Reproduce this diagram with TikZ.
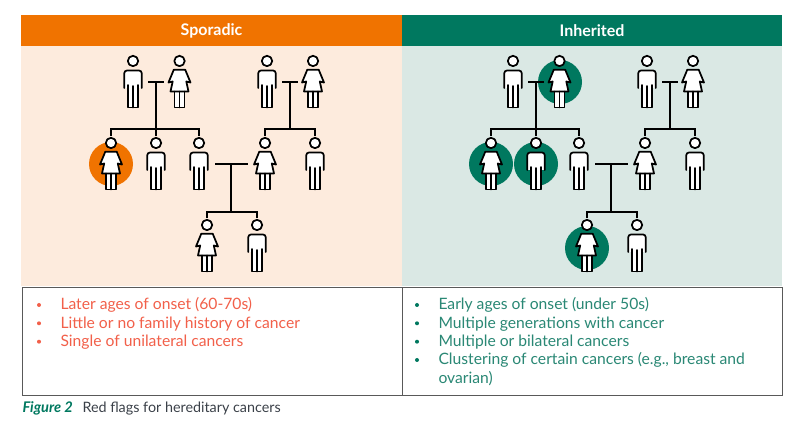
\documentclass[tikz,border=0pt]{standalone}
\usepackage{fontspec}
\setmainfont{Lato}
\usetikzlibrary{positioning}
\definecolor{sporOrange}{HTML}{F07300}
\definecolor{sporPale}{HTML}{FDEBDD}
\definecolor{sporText}{HTML}{F2604A}
\definecolor{inhGreen}{HTML}{00785F}
\definecolor{inhPale}{HTML}{DAE8E4}
\definecolor{inhText}{HTML}{2A8875}
\definecolor{capText}{HTML}{3A4048}
\tikzset{
  every picture/.style={line width=0.75pt},
  figline/.style={line width=1.3pt, line join=round, line cap=round},
  kin/.style={line width=1.5pt, line join=miter},
  header/.style={rectangle, minimum width=#1*0.75pt, minimum height=23.25pt, inner sep=0pt, text=white, font=\fontsize{12}{14}\selectfont\bfseries},
  panel/.style={rectangle, minimum width=#1*0.75pt, minimum height=180pt, inner sep=0pt},
  listbox/.style={rectangle, draw=black!65, fill=white, minimum width=#1*0.75pt, minimum height=81pt, inner sep=0pt},
  listline/.style={anchor=base west, inner sep=0pt, font=\fontsize{11.75}{14}\selectfont},
  dotmark/.style={circle, inner sep=0pt, minimum size=3pt},
  spot/.style={circle, inner sep=0pt, minimum size=33pt},
  male/.pic={
    \fill[white] (-8.5,10) rectangle (8.5,27);
    \fill[white] (-5,24) rectangle (5,46.5);
    \draw[figline, fill=white] (0,0) circle (5.2);
    \draw[figline, rounded corners=2pt] (-8.7,27) -- (-8.7,9.5) -- (8.7,9.5) -- (8.7,27);
    \draw[figline] (-5,24) -- (-5,46.5) -- (5,46.5) -- (5,24);
    \draw[figline] (0,25) -- (0,46.5);
    \coordinate (-top) at (0,-7);
  },
  female/.pic={
    \fill[white] (-4.8,30) rectangle (5,46.5);
    \draw[figline, fill=white] (0,0) circle (5.2);
    \draw[figline, fill=white] (-5.7,8.7) -- (5.7,8.7) -- (11,21.5) -- (6.8,20.5) -- (9,30.5) -- (-9,30.5) -- (-6.8,20.5) -- (-11,21.5) -- cycle;
    \draw[figline] (-5,30.5) -- (-5,46.5) -- (5,46.5) -- (5,30.5);
    \draw[figline] (0,30.5) -- (0,46.5);
    \coordinate (-top) at (0,-7);
  }
}
% one family tree, repeated in each column
\newcommand{\famtree}{
  % grandparents
  \pic (gm) at (133,61) {male};
  \pic (gf) at (179.5,61) {female};
  \pic (hm) at (267,61) {male};
  \pic (hf) at (313,61) {female};
  % children
  \pic (ca) at (111,143) {female};
  \pic (cb) at (156,143) {male};
  \pic (cc) at (199,143) {male};
  \pic (cd) at (265,143) {female};
  \pic (ce) at (315,143) {male};
  % youngest generation
  \pic (ka) at (207,225) {female};
  \pic (kb) at (257,225) {male};
  % couple bars and sibling bars
  \coordinate (ula) at (148,82); \coordinate (ulb) at (164,82); \coordinate (ul) at (156,82);
  \coordinate (ura) at (282,82); \coordinate (urb) at (298,82); \coordinate (ur) at (290,82);
  \coordinate (uma) at (215,164); \coordinate (umb) at (248,164); \coordinate (um) at (231,164);
  \coordinate (sl) at (156,129); \coordinate (sr) at (290,129); \coordinate (sm) at (231,212);
  \draw[kin] (ula) -- (ulb); \draw[kin] (ul) -- (sl);
  \draw[kin] (ca-top) |- (sl) -| (cc-top); \draw[kin] (cb-top) -- (sl);
  \draw[kin] (ura) -- (urb); \draw[kin] (ur) -- (sr);
  \draw[kin] (cd-top) |- (sr) -| (ce-top);
  \draw[kin] (uma) -- (umb); \draw[kin] (um) -- (sm);
  \draw[kin] (ka-top) |- (sm) -| (kb-top);
}
\begin{document}
\begin{tikzpicture}[x=0.75pt, y=-0.75pt]
  \useasboundingbox (0,0) rectangle (800,434);
  % headers
  \node[header=381, fill=sporOrange] (hdspor) at (211.5,30.5) {Sporadic};
  \node[header=380, fill=inhGreen] (hdinh) at (592,30.5) {Inherited};
  % pale panels
  \node[panel=381, fill=sporPale] (pnspor) at (211.5,166) {};
  \node[panel=380, fill=inhPale] (pninh) at (592,166) {};
  % affected people
  \node[spot, fill=sporOrange] (spa) at (111,164) {};
  \node[spot, fill=inhGreen] (spb) at (560,82) {};
  \node[spot, fill=inhGreen] (spc) at (491,164) {};
  \node[spot, fill=inhGreen] (spd) at (536,164) {};
  \node[spot, fill=inhGreen] (spe) at (587,248) {};
  % trees
  \begin{scope}[name prefix=L-]
    \famtree
  \end{scope}
  \begin{scope}[name prefix=R-, shift={(380,0)}]
    \famtree
  \end{scope}
  % lists
  \node[listbox=380, anchor=north west] (bxspor) at (22,287) {};
  \node[listbox=380, anchor=north west] (bxinh) at (402,287) {};
  \foreach \y/\txt in {310/Later ages of onset (60-70s), 328.3/Little or no family history of cancer, 346.7/Single of unilateral cancers}{
    \node[dotmark, fill=sporText] at (39,\y-5) {};
    \node[listline, text=sporText] at (60,\y) {\txt};
  }
  \foreach \y/\txt in {310/Early ages of onset (under 50s), 328.3/Multiple generations with cancer, 346.7/Multiple or bilateral cancers, 365/{Clustering of certain cancers (e.g., breast and}, 383.3/ovarian)}{
    \node[listline, text=inhText] at (438,\y) {\txt};
  }
  \foreach \y in {310, 328.3, 346.7, 365}{
    \node[dotmark, fill=inhGreen] at (417,\y-5) {};
  }
  % caption
  \node[listline, text=inhGreen, font=\fontsize{11}{13}\selectfont\bfseries\itshape] (figno) at (22,412.5) {Figure 2};
  \node[listline, text=capText, font=\fontsize{10.75}{13}\selectfont] (figcap) at (82,412.5) {Red flags for hereditary cancers};
\end{tikzpicture}
\end{document}
